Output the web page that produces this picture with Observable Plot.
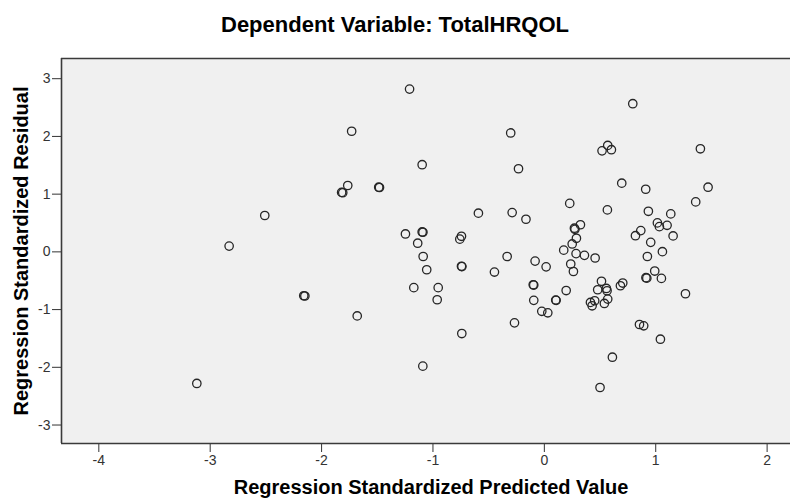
<!DOCTYPE html>
<html><head><meta charset="utf-8">
<script src="https://cdn.jsdelivr.net/npm/d3@7"></script>
<script src="https://cdn.jsdelivr.net/npm/@observablehq/plot@0.6"></script>
<style>
body{margin:0;background:#fff;font-family:"Liberation Sans",Arial,sans-serif;}
#title{height:45px;width:790px;text-align:center;font-weight:bold;font-size:22px;line-height:22px;padding-top:14px;box-sizing:border-box;color:#000;white-space:nowrap;}
#chart svg{display:block;}
</style></head><body>
<div id="title">Dependent Variable: TotalHRQOL</div>
<div id="chart"></div>
<script>
const predicted = [-3.12,-2.83,-2.51,-2.16,-2.15,-1.82,-1.81,-1.765,-1.73,-1.68,-1.487,-1.48,-1.247,-1.21,-1.172,-1.137,-1.097,-1.09,-1.097,-1.088,-1.091,-1.056,-0.962,-0.953,-0.744,-0.759,-0.744,-0.74,-0.741,-0.592,-0.448,-0.334,-0.302,-0.289,-0.268,-0.232,-0.165,-0.10,-0.095,-0.095,-0.083,-0.023,0.016,0.031,0.102,0.106,0.174,0.196,0.228,0.237,0.25,0.261,0.27,0.275,0.288,0.285,0.324,0.36,0.414,0.429,0.452,0.456,0.479,0.50,0.513,0.518,0.539,0.557,0.563,0.566,0.569,0.569,0.602,0.611,0.683,0.695,0.704,0.794,0.818,0.854,0.866,0.892,0.91,0.912,0.92,0.925,0.934,0.955,0.991,1.015,1.033,1.042,1.051,1.06,1.102,1.135,1.156,1.267,1.359,1.401,1.47];
const residual = [-2.28,0.10,0.63,-0.76,-0.765,1.03,1.025,1.15,2.09,-1.11,1.12,1.115,0.31,2.82,-0.62,0.15,0.345,0.34,1.51,-0.08,-1.98,-0.31,-0.83,-0.62,0.27,0.22,-0.25,-0.255,-1.415,0.67,-0.35,-0.08,2.06,0.68,-1.23,1.44,0.565,-0.57,-0.575,-0.84,-0.16,-1.03,-0.26,-1.056,-0.835,-0.84,0.03,-0.67,0.84,-0.21,0.137,-0.34,0.41,0.39,0.235,-0.03,0.47,-0.06,-0.876,-0.934,-0.847,-0.106,-0.656,-2.35,-0.51,1.75,-0.894,-0.634,-0.674,0.727,1.844,-0.818,1.77,-1.825,-0.587,1.19,-0.54,2.567,0.28,-1.258,0.368,-1.281,1.085,-0.448,-0.455,-0.08,0.703,0.165,-0.332,0.502,0.437,-1.513,-0.46,0.003,0.46,0.658,0.276,-0.726,0.866,1.786,1.12];
const xTicks = [-4,-3,-2,-1,0,1,2];
const yTicks = [-3,-2,-1,0,1,2,3];
const xDomain = [-4.335, 2.21];
const yDomain = [-3.32, 3.35];
const xTitle = "Regression Standardized Predicted Value";
const yTitle = "Regression Standardized Residual";
const data = predicted.map((x, i) => ({x, y: residual[i]}));
const border = {stroke: "#3a3a3a", strokeWidth: 1.6};
const plot = Plot.plot({
  width: 790, height: 459,
  marginLeft: 61, marginRight: 0, marginTop: 13, marginBottom: 61,
  style: {background: "#fff", fontFamily: "'Liberation Sans', Arial, sans-serif", fontSize: "14px", color: "#333", overflow: "visible"},
  x: {domain: xDomain, ticks: xTicks, tickSize: 9, tickPadding: 3, label: null, tickFormat: d => String(d)},
  y: {domain: yDomain, ticks: yTicks, tickSize: 9, tickPadding: 2, label: null, tickFormat: d => String(d)},
  marks: [
    Plot.frame({fill: "#f0f0f0", stroke: "none"}),
    Plot.ruleX([xDomain[0]], border),
    Plot.ruleY([yDomain[0]], border),
    Plot.ruleY([yDomain[1]], border),
    Plot.dot(data, {x: "x", y: "y", r: 4.2, stroke: "#262626", strokeWidth: 1.3, fill: "none"}),
    Plot.text([xTitle], {frameAnchor: "bottom", textAnchor: "middle", dx: 5, dy: 50, fontWeight: "bold", fontSize: 20, fill: "#000"}),
    Plot.text([yTitle], {frameAnchor: "left", textAnchor: "middle", dx: -39.5, rotate: -90, fontWeight: "bold", fontSize: 20, fill: "#000"})
  ]
});
document.getElementById("chart").appendChild(plot);
</script>
</body></html>
